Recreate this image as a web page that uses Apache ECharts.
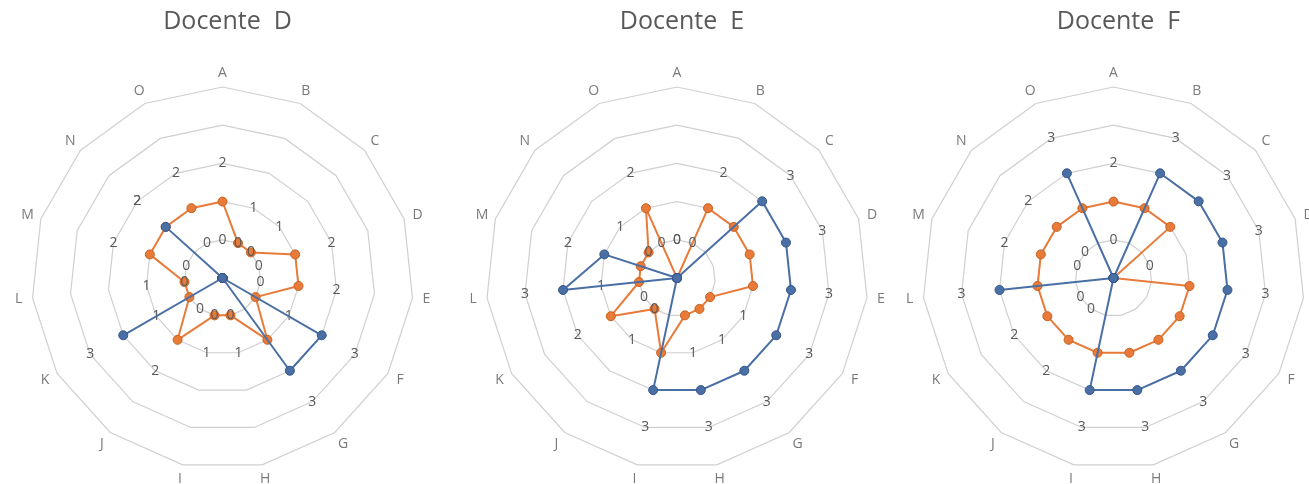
<!DOCTYPE html>
<html>
<head>
<meta charset="utf-8">
<script src="https://cdn.jsdelivr.net/npm/echarts@6/dist/echarts.min.js"></script>
<style>
html,body{margin:0;padding:0;background:#fff;}
#c{width:1309px;height:484px;}
</style>
</head>
<body>
<div id="c"></div>
<script>
// ---- data ----
const categories = ['A','B','C','D','E','F','G','H','I','J','K','L','M','N','O'];
const titles = ['Docente  D', 'Docente  E', 'Docente  F'];
const orangeD = [2,1,1,2,2,1,2,1,1,2,1,1,2,2,2];
const blueD   = [0,0,0,0,0,3,3,0,0,0,3,0,0,2,0];
const orangeE = [0,2,2,2,2,1,1,1,2,1,2,1,1,1,2];
const blueE   = [0,0,3,3,3,3,3,3,3,0,0,3,2,0,0];
const orangeF = [2,2,2,0,2,2,2,2,2,2,2,2,2,2,2];
const blueF   = [0,3,3,3,3,3,3,3,3,0,0,3,0,0,3];
const axisMin = 0;
const axisMax = 5;

// ---- layout / style ----
const FONT = '"Open Sans", "Noto Sans", sans-serif';
const centers = [[222.5, 278], [677, 278], [1113.5, 278]];
const R = 191;
const ORANGE = '#E97B3A';
const BLUE = '#4A6FA5';
const TXT = '#595959';

// ECharts radar places indicators counter-clockwise; reorder so A..O run clockwise
const n = categories.length;
const order = [0];
for (let i = n - 1; i >= 1; i--) order.push(i);
const reorder = arr => order.map(i => arr[i]);

// labels sit one ring outward from each point (as in the reference)
const ring = R / 5;
const rich = {};
for (let j = 0; j < n; j++) {
  const th = (90 + j * 360 / n) * Math.PI / 180;
  const dx = ring * Math.cos(th);
  const dy = -ring * Math.sin(th);
  rich['d' + j] = {
    fontSize: 14, color: TXT, fontFamily: FONT,
    padding: [Math.max(0, 2 * dy), Math.max(0, -2 * dx), Math.max(0, -2 * dy), Math.max(0, 2 * dx)]
  };
}
// occluder: a label hidden behind the other series' marker (as in the reference)
function makeLabel(hiddenBehind) {
  return {
    show: true,
    position: 'inside',
    formatter: p => {
      if (hiddenBehind && hiddenBehind[p.dimensionIndex] === p.value + 1) return '';
      return '{d' + p.dimensionIndex + '|' + p.value + '}';
    },
    rich: rich
  };
}

const datasets = [[orangeD, blueD], [orangeE, blueE], [orangeF, blueF]];

const radar = centers.map(c => ({
  center: c,
  radius: R,
  startAngle: 90,
  shape: 'polygon',
  splitNumber: 5,
  nameGap: 14,
  indicator: order.map(i => ({ name: categories[i], min: axisMin, max: axisMax })),
  axisName: { color: '#7a7a7a', fontSize: 14, fontFamily: FONT, align: 'center', verticalAlign: 'middle' },
  splitLine: { lineStyle: { color: '#d0d0d0', width: 1.2 } },
  splitArea: { show: false },
  axisLine: { show: false },
  axisTick: { show: false },
  axisLabel: { show: false }
}));

const series = [];
datasets.forEach((pair, k) => {
  const o = reorder(pair[0]);
  const b = reorder(pair[1]);
  series.push({
    type: 'radar', radarIndex: k, zlevel: 0, z: 2,
    symbol: 'circle', symbolSize: 9,
    lineStyle: { color: ORANGE, width: 2 },
    itemStyle: { color: ORANGE, borderColor: '#c8601f', borderWidth: 1 },
    label: makeLabel(b),
    data: [{ value: o, name: 'Orange' }]
  });
  series.push({
    type: 'radar', radarIndex: k, zlevel: 1, z: 3,
    symbol: 'circle', symbolSize: 9,
    lineStyle: { color: BLUE, width: 2 },
    itemStyle: { color: BLUE, borderColor: '#34558a', borderWidth: 1 },
    label: makeLabel(null),
    data: [{ value: b, name: 'Blue' }]
  });
});

const chart = echarts.init(document.getElementById('c'), null, { renderer: 'canvas' });
chart.setOption({
  backgroundColor: '#fff',
  animation: false,
  title: titles.map((t, k) => ({
    text: t,
    left: centers[k][0],
    top: 4,
    textAlign: 'center',
    textStyle: { color: TXT, fontSize: 25, fontWeight: 'normal', fontFamily: FONT }
  })),
  radar: radar,
  series: series
});
</script>
</body>
</html>
